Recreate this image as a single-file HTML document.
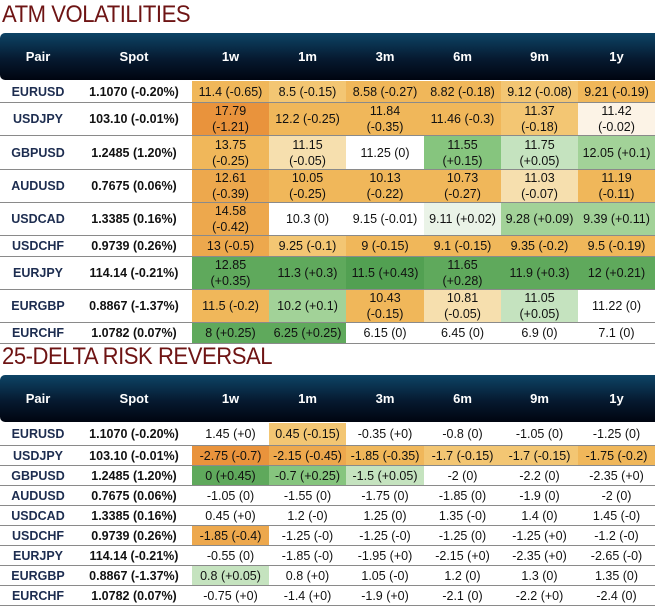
<!DOCTYPE html>
<html><head><meta charset="utf-8">
<style>
html,body{margin:0;padding:0;background:#fff;width:655px;height:609px;overflow:hidden;font-family:"Liberation Sans",sans-serif;}
.title{position:absolute;left:2px;font-size:24px;color:#6e1414;letter-spacing:-0.5px;transform:scaleX(0.92);transform-origin:left;line-height:28px;}
.hdr{position:absolute;left:0;width:655px;height:47px;border-radius:5px 0 0 5px;background:linear-gradient(#0d4466,#061a30 55%,#000510);}
.hdr div{position:absolute;top:0;height:47px;line-height:47px;text-align:center;color:#fff;font-weight:bold;font-size:13px;}
table{position:absolute;left:0;width:655px;border-collapse:collapse;table-layout:fixed;}
td{padding:0;text-align:center;font-size:12.5px;line-height:16px;color:#111;border-bottom:1px solid #8a8a8a;white-space:nowrap;}
td.pair{color:#1d2d50;font-weight:bold;background:#fff;}
td.spot{font-weight:bold;color:#111;background:#fff;}
.O{background:#e9933c}.A{background:#eda84d}.o{background:#f0b75a}.m{background:#f3c673}.l{background:#f6dfae}.v{background:#fcf3e6}.w{background:#fff}
.G{background:#5fa95c}.D{background:#52a052}.g{background:#86c57e}.g2{background:#a2d298}.pg{background:#c5e3bf}.q{background:#eaf3e7}
</style></head><body>
<div class="title" style="top:1px">ATM VOLATILITIES</div>
<div class="hdr" style="top:33px" id="h1"></div>
<table id="t1" style="top:81px"></table>
<div class="title" style="top:343px">25-DELTA RISK REVERSAL</div>
<div class="hdr" style="top:375px" id="h2"></div>
<table id="t2" style="top:423px"></table>
<script>
const cols=["Pair","Spot","1w","1m","3m","6m","9m","1y"];
const widths=[76,116,77,77,78,77,77,77];
const pairs=["EURUSD","USDJPY","GBPUSD","AUDUSD","USDCAD","USDCHF","EURJPY","EURGBP","EURCHF"];
const spots=["1.1070 (-0.20%)","103.10 (-0.01%)","1.2485 (1.20%)","0.7675 (0.06%)","1.3385 (0.16%)","0.9739 (0.26%)","114.14 (-0.21%)","0.8867 (-1.37%)","1.0782 (0.07%)"];
const atmVals=[
["11.4 (-0.65)","8.5 (-0.15)","8.58 (-0.27)","8.82 (-0.18)","9.12 (-0.08)","9.21 (-0.19)"],
["17.79|(-1.21)","12.2 (-0.25)","11.84|(-0.35)","11.46 (-0.3)","11.37|(-0.18)","11.42|(-0.02)"],
["13.75|(-0.25)","11.15|(-0.05)","11.25 (0)","11.55|(+0.15)","11.75|(+0.05)","12.05 (+0.1)"],
["12.61|(-0.39)","10.05|(-0.25)","10.13|(-0.22)","10.73|(-0.27)","11.03|(-0.07)","11.19|(-0.11)"],
["14.58|(-0.42)","10.3 (0)","9.15 (-0.01)","9.11 (+0.02)","9.28 (+0.09)","9.39 (+0.11)"],
["13 (-0.5)","9.25 (-0.1)","9 (-0.15)","9.1 (-0.15)","9.35 (-0.2)","9.5 (-0.19)"],
["12.85|(+0.35)","11.3 (+0.3)","11.5 (+0.43)","11.65|(+0.28)","11.9 (+0.3)","12 (+0.21)"],
["11.5 (-0.2)","10.2 (+0.1)","10.43|(-0.15)","10.81|(-0.05)","11.05|(+0.05)","11.22 (0)"],
["8 (+0.25)","6.25 (+0.25)","6.15 (0)","6.45 (0)","6.9 (0)","7.1 (0)"]];
const atmBg=[
["o","m","o","o","m","o"],["O","o","o","o","m","v"],["o","l","w","g","pg","g2"],
["A","o","o","o","l","o"],["A","w","w","q","g2","g2"],["A","m","o","o","o","o"],
["G","G","D","G","G","G"],["o","g2","o","l","pg","w"],["G","G","w","w","w","w"]];
const atmH=[22,33,34,32,33,21,32,33,21];
const rrVals=[
["1.45 (+0)","0.45 (-0.15)","-0.35 (+0)","-0.8 (0)","-1.05 (0)","-1.25 (0)"],
["-2.75 (-0.7)","-2.15 (-0.45)","-1.85 (-0.35)","-1.7 (-0.15)","-1.7 (-0.15)","-1.75 (-0.2)"],
["0 (+0.45)","-0.7 (+0.25)","-1.5 (+0.05)","-2 (0)","-2.2 (0)","-2.35 (+0)"],
["-1.05 (0)","-1.55 (0)","-1.75 (0)","-1.85 (0)","-1.9 (0)","-2 (0)"],
["0.45 (+0)","1.2 (-0)","1.25 (0)","1.35 (-0)","1.4 (0)","1.45 (-0)"],
["-1.85 (-0.4)","-1.25 (-0)","-1.25 (-0)","-1.25 (0)","-1.25 (+0)","-1.2 (-0)"],
["-0.55 (0)","-1.85 (-0)","-1.95 (+0)","-2.15 (+0)","-2.35 (+0)","-2.65 (-0)"],
["0.8 (+0.05)","0.8 (+0)","1.05 (-0)","1.2 (0)","1.3 (0)","1.35 (0)"],
["-0.75 (+0)","-1.4 (+0)","-1.9 (+0)","-2.1 (0)","-2.2 (+0)","-2.4 (0)"]];
const rrBg=[
["w","m","w","w","w","w"],["O","A","o","m","m","o"],["G","g","pg","w","w","w"],
["w","w","w","w","w","w"],["w","w","w","w","w","w"],["A","w","w","w","w","w"],
["w","w","w","w","w","w"],["pg","w","w","w","w","w"],["w","w","w","w","w","w"]];
const rrH=[23,20,20,20,20,20,20,20,20];

function header(id){
  const h=document.getElementById(id);let x=0;
  cols.forEach((c,i)=>{const d=document.createElement('div');
    
    
    d.style.left=x+'px';d.style.width=widths[i]+'px';d.textContent=c;h.appendChild(d);x+=widths[i];});
}
function table(id,vals,bgs,hs,prefix){
  const t=document.getElementById(id);
  const cg=document.createElement('colgroup');
  widths.forEach(w=>{const c=document.createElement('col');c.style.width=w+'px';cg.appendChild(c);});
  t.appendChild(cg);
  pairs.forEach((p,r)=>{
    const tr=document.createElement('tr');
    
    
    const hh=(hs[r]-1)+'px';
    const a=document.createElement('td');a.className='pair';a.textContent=p;a.style.height=hh;
    
    
    tr.appendChild(a);
    const s=document.createElement('td');s.className='spot';s.textContent=spots[r];s.style.height=hh;
    
    
    tr.appendChild(s);
    vals[r].forEach((v,c)=>{const td=document.createElement('td');td.className=bgs[r][c];td.style.height=hh;
      
      
      v.split('|').forEach((line,k)=>{if(k)td.appendChild(document.createElement('br'));td.appendChild(document.createTextNode(line));});
      tr.appendChild(td);});
    t.appendChild(tr);
  });
}
header('h1');header('h2');
table('t1',atmVals,atmBg,atmH,'atm');
table('t2',rrVals,rrBg,rrH,'rr');
</script>
</body></html>
